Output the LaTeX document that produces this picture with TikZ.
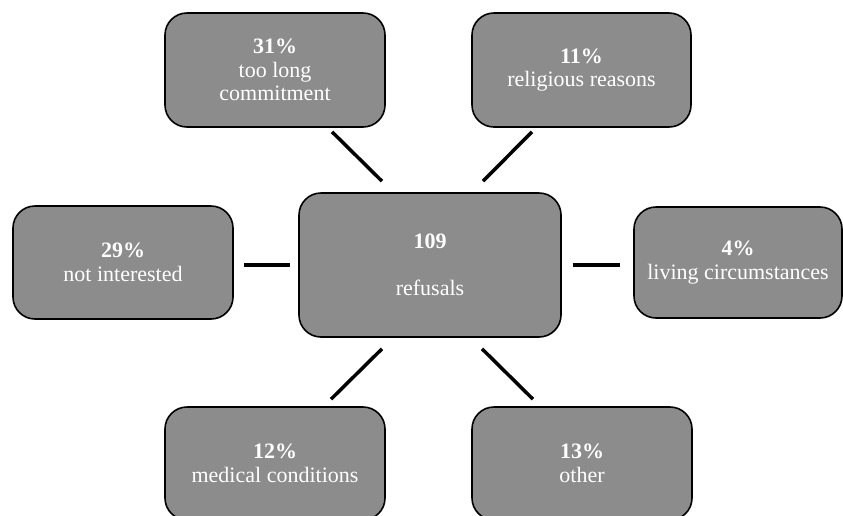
\documentclass[tikz,border=0pt]{standalone}
\usepackage{fontspec}
\setmainfont{Liberation Serif}
\usetikzlibrary{calc}
\definecolor{boxgray}{RGB}{140,140,140}
\begin{document}
\begin{tikzpicture}[x=1pt,y=-1pt,
  box/.style={draw=black, line width=1.6pt, fill=boxgray, rounded corners=22pt,
    text=white, align=center, font=\fontsize{22}{23.5}\selectfont, inner sep=0pt},
  conn/.style={draw=black, line width=3.5pt}]
\useasboundingbox (0,0) rectangle (843,515);
\clip (0,0) rectangle (843,515);
\node[box, minimum width=220pt, minimum height=114pt] (tl) at (275,70) {\textbf{31\%}\\too long\\commitment};
\node[box, minimum width=219pt, minimum height=114pt] (tr) at (581.5,70) {\textbf{11\%}\\religious reasons};
\node[box, minimum width=220pt, minimum height=113pt] (l) at (123,262.5) {\textbf{29\%}\\not interested};
\node[box, minimum width=262pt, minimum height=144pt] (c) at (430,265) {\textbf{109}\\[23.5pt]refusals};
\node[box, minimum width=208pt, minimum height=111pt] (r) at (738,262.5) {\textbf{4\%}\\living circumstances};
\node[box, minimum width=220pt, minimum height=113pt] (bl) at (275,463.5) {\textbf{12\%}\\medical conditions};
\node[box, minimum width=220pt, minimum height=113pt] (br) at (582,463.5) {\textbf{13\%}\\other};
\draw[conn] ($(tl.south)+(57,4)$) -- ($(c.north)+(-48,-11)$);
\draw[conn] ($(tr.south)+(-49.5,4)$) -- ($(c.north)+(53,-11)$);
\draw[conn] ($(l.east)+(10,2.5)$) -- ($(c.west)+(-8,0)$);
\draw[conn] ($(c.east)+(11,0)$) -- ($(r.west)+(-13,2.5)$);
\draw[conn] ($(c.south)+(-48,11)$) -- ($(bl.north)+(56,-7)$);
\draw[conn] ($(c.south)+(52,11)$) -- ($(br.north)+(-49,-7)$);
\end{tikzpicture}
\end{document}
